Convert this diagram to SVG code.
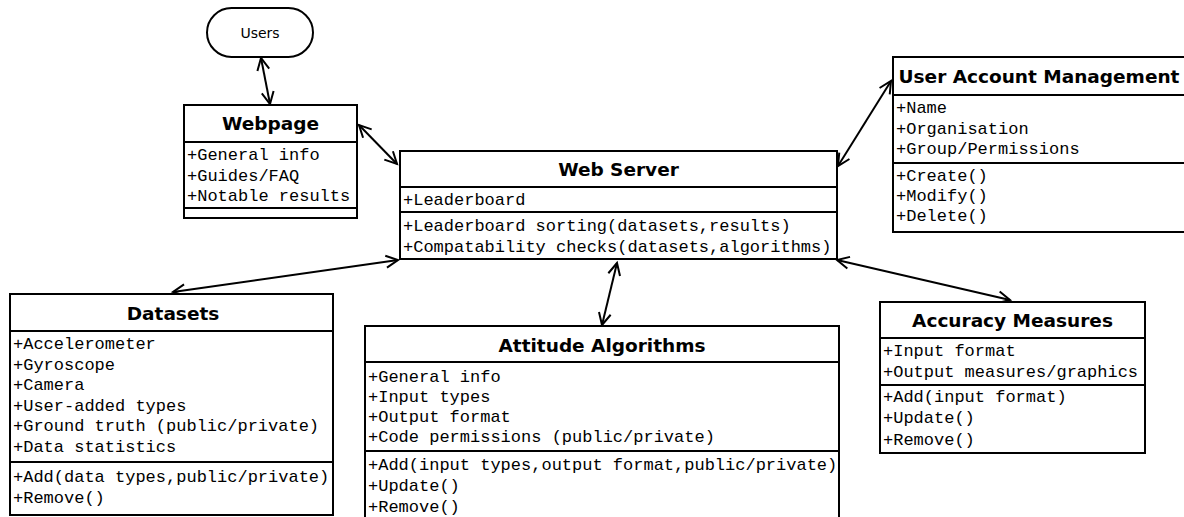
<svg xmlns="http://www.w3.org/2000/svg" width="1184" height="517" viewBox="0 0 1184 517">
<style>
.box{fill:#fff;stroke:#000;stroke-width:2}
.div{stroke:#000;stroke-width:2}
.title{font-family:"DejaVu Sans",Verdana,sans-serif;font-weight:bold;font-size:18.5px;fill:#000;text-anchor:middle}
.m{font-family:"Liberation Mono","Courier New",monospace;font-size:17px;fill:#000}
.lbl{font-family:"DejaVu Sans",Verdana,sans-serif;font-size:14px;fill:#000;text-anchor:middle}
.con{stroke:#000;stroke-width:2;fill:none;marker-start:url(#arr);marker-end:url(#arr)}
</style>
<defs>
<marker id="arr" viewBox="-16 -10 20 20" refX="0" refY="0" markerWidth="20" markerHeight="20" markerUnits="userSpaceOnUse" orient="auto-start-reverse">
<path d="M-12,-6 L0,0 L-12,6" fill="none" stroke="#000" stroke-width="2"/>
</marker>
</defs>
<rect width="1184" height="517" fill="#fff"/>

<g id="connectors">
<line class="con" x1="261" y1="58" x2="270" y2="104"/>
<line class="con" x1="359" y1="125" x2="397" y2="164"/>
<line class="con" x1="838" y1="166" x2="891" y2="81"/>
<line class="con" x1="398" y1="260" x2="173" y2="292"/>
<line class="con" x1="617" y1="263" x2="602" y2="325"/>
<line class="con" x1="837" y1="260" x2="1010" y2="300"/>
</g>

<g id="users">
<rect class="box" x="207" y="8" width="106" height="49" rx="24.5" ry="24.5"/>
<text class="lbl" x="260" y="37.5">Users</text>
</g>

<g id="webpage">
<rect class="box" x="184" y="105" width="173" height="113"/>
<line class="div" x1="184" y1="142" x2="357" y2="142"/>
<line class="div" x1="184" y1="208" x2="357" y2="208"/>
<text class="title" x="270.5" y="130">Webpage</text>
<text class="m" x="187" y="160">+General info</text>
<text class="m" x="187" y="180.6">+Guides/FAQ</text>
<text class="m" x="187" y="201">+Notable results</text>
</g>

<g id="webserver">
<rect class="box" x="400" y="151" width="437" height="108"/>
<line class="div" x1="400" y1="187" x2="837" y2="187"/>
<line class="div" x1="400" y1="212" x2="837" y2="212"/>
<text class="title" x="618.5" y="176">Web Server</text>
<text class="m" x="403" y="205">+Leaderboard</text>
<text class="m" x="403" y="231">+Leaderboard sorting(datasets,results)</text>
<text class="m" x="403" y="252">+Compatability checks(datasets,algorithms)</text>
</g>

<g id="useraccount">
<rect class="box" x="893" y="57" width="292" height="175"/>
<line class="div" x1="893" y1="95" x2="1185" y2="95"/>
<line class="div" x1="893" y1="163" x2="1185" y2="163"/>
<text class="title" x="1039" y="83">User Account Management</text>
<text class="m" x="896" y="113">+Name</text>
<text class="m" x="896" y="134">+Organisation</text>
<text class="m" x="896" y="154">+Group/Permissions</text>
<text class="m" x="896" y="181">+Create()</text>
<text class="m" x="896" y="201">+Modify()</text>
<text class="m" x="896" y="221">+Delete()</text>
</g>

<g id="datasets">
<rect class="box" x="10" y="294" width="323" height="221"/>
<line class="div" x1="10" y1="331" x2="333" y2="331"/>
<line class="div" x1="10" y1="462" x2="333" y2="462"/>
<text class="title" x="173" y="319.5">Datasets</text>
<text class="m" x="13" y="349">+Accelerometer</text>
<text class="m" x="13" y="369.6">+Gyroscope</text>
<text class="m" x="13" y="390.2">+Camera</text>
<text class="m" x="13" y="410.8">+User-added types</text>
<text class="m" x="13" y="431.4">+Ground truth (public/private)</text>
<text class="m" x="13" y="452">+Data statistics</text>
<text class="m" x="13" y="482">+Add(data types,public/private)</text>
<text class="m" x="13" y="502.5">+Remove()</text>
</g>

<g id="attitude">
<rect class="box" x="365" y="326" width="474" height="200"/>
<line class="div" x1="365" y1="362" x2="839" y2="362"/>
<line class="div" x1="365" y1="451" x2="839" y2="451"/>
<text class="title" x="602" y="352">Attitude Algorithms</text>
<text class="m" x="368" y="382">+General info</text>
<text class="m" x="368" y="402">+Input types</text>
<text class="m" x="368" y="422">+Output format</text>
<text class="m" x="368" y="442">+Code permissions (public/private)</text>
<text class="m" x="368" y="470">+Add(input types,output format,public/private)</text>
<text class="m" x="368" y="491">+Update()</text>
<text class="m" x="368" y="512">+Remove()</text>
</g>

<g id="accuracy">
<rect class="box" x="880" y="302" width="265" height="151"/>
<line class="div" x1="880" y1="338" x2="1145" y2="338"/>
<line class="div" x1="880" y1="385" x2="1145" y2="385"/>
<text class="title" x="1012.5" y="327">Accuracy Measures</text>
<text class="m" x="883" y="356">+Input format</text>
<text class="m" x="883" y="377">+Output measures/graphics</text>
<text class="m" x="883" y="402">+Add(input format)</text>
<text class="m" x="883" y="423">+Update()</text>
<text class="m" x="883" y="445">+Remove()</text>
</g>
</svg>
